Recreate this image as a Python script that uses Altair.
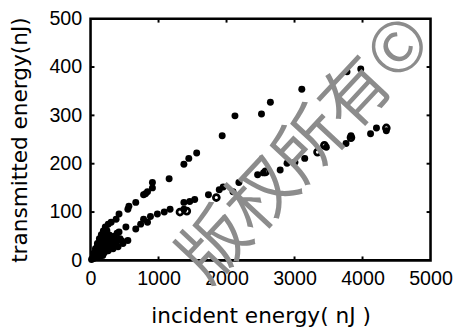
import altair as alt
import pandas as pd

# upper series (filled dots)
up_x = [43, 72, 101, 130, 159, 188, 217, 260, 303, 376, 419, 549, 564, 665, 780, 809, 838,
        910, 910, 1156, 1373, 1445, 1561, 1936, 2124, 2514, 2645, 3107, 3772, 3974]
up_y = [14, 24, 35, 45, 53, 61, 69, 75, 79, 85, 96, 106, 112, 120, 136, 138, 142,
        150, 161, 169, 199, 211, 222, 258, 299, 303, 327, 354, 390, 396]

# lower series (filled dots)
lo_x = [87, 145, 202, 260, 332, 405, 477, 549, 58, 116, 173, 231, 289, 202, 260, 347, 434,
        116, 29, 173, 289, 376, 419, 520, 665, 737, 780, 838, 881, 983, 1084, 1170, 1373,
        1373, 1459, 1532, 1734, 1893, 1951, 2095, 2182, 2457, 2543, 2789, 2890, 3006, 3150,
        3468, 3757, 3830, 4118, 4205, 4350, 15, 60, 100, 150, 230, 320, 45, 130,
        80, 110, 140, 170, 200, 240, 180, 220, 250, 280, 310, 350, 390, 460]
lo_y = [8, 12, 16, 20, 24, 28, 35, 41, 8, 20, 28, 37, 45, 45, 53, 41, 45,
        12, 4, 20, 33, 37, 59, 69, 65, 75, 85, 79, 91, 96, 100, 106, 106,
        120, 122, 126, 136, 146, 152, 142, 161, 177, 181, 187, 201, 203, 211,
        234, 242, 258, 262, 274, 268, 2, 16, 30, 38, 50, 28, 4, 6,
        22, 28, 40, 46, 56, 62, 10, 26, 34, 52, 36, 50, 56, 40]

# lower series (open circles)
op_x = [1315, 1416, 1850, 2572, 3338, 3439, 3830, 4350]
op_y = [100, 102, 130, 183, 224, 238, 254, 274]

x_ticks = [0, 1000, 2000, 3000, 4000, 5000]
y_ticks = [0, 100, 200, 300, 400, 500]
inner_x = [1000, 2000, 3000, 4000]
inner_y = [100, 200, 300, 400]

W, H = 346, 246

up = pd.DataFrame({"x": up_x, "y": up_y})
lo = pd.DataFrame({"x": lo_x, "y": lo_y})
op = pd.DataFrame({"x": op_x, "y": op_y})

xs = alt.Scale(domain=[0, 5000], nice=False)
ys = alt.Scale(domain=[0, 500], nice=False)

xax = alt.Axis(values=x_ticks, ticks=False, domain=False, grid=False, labelPadding=9,
               labelFontSize=20, labelFont="Liberation Sans", labelColor="black",
               format="d",
               title="incident energy( nJ )", titleFontSize=22, titleFont="DejaVu Sans",
               titleFontWeight="normal", titleColor="black", titlePadding=17,
               labelFlush=False)
yax = alt.Axis(values=y_ticks, ticks=False, domain=False, grid=False, labelPadding=9,
               labelFontSize=20, labelFont="Liberation Sans", labelColor="black",
               format="d",
               title="transmitted energy(nJ)", titleFontSize=22, titleFont="DejaVu Sans",
               titleFontWeight="normal", titleColor="black", titlePadding=18,
               labelFlush=False)

base_up = alt.Chart(up).mark_circle(color="black", opacity=1, size=50).encode(
    x=alt.X("x:Q", scale=xs, axis=xax),
    y=alt.Y("y:Q", scale=ys, axis=yax),
)
base_lo = alt.Chart(lo).mark_circle(color="black", opacity=1, size=50).encode(
    x=alt.X("x:Q", scale=xs), y=alt.Y("y:Q", scale=ys))
base_op = alt.Chart(op).mark_point(color="black", filled=False, strokeWidth=2.8, size=36, opacity=1).encode(
    x=alt.X("x:Q", scale=xs), y=alt.Y("y:Q", scale=ys))

tx = pd.DataFrame({"v": inner_x})
ty = pd.DataFrame({"v": inner_y})
tick_b = alt.Chart(tx).mark_rule(color="black", strokeWidth=2).encode(
    x=alt.X("v:Q", scale=xs), y=alt.value(H), y2=alt.value(H - 4))
tick_t = alt.Chart(tx).mark_rule(color="black", strokeWidth=2).encode(
    x=alt.X("v:Q", scale=xs), y=alt.value(0), y2=alt.value(4))
tick_l = alt.Chart(ty).mark_rule(color="black", strokeWidth=2).encode(
    y=alt.Y("v:Q", scale=ys), x=alt.value(0), x2=alt.value(4))
tick_r = alt.Chart(ty).mark_rule(color="black", strokeWidth=2).encode(
    y=alt.Y("v:Q", scale=ys), x=alt.value(W), x2=alt.value(W - 4))

wm = alt.Chart(pd.DataFrame({"t": ["版权所有©"]})).mark_text(
    font="Noto Sans CJK SC", fontSize=70, color="#8c8c8c", angle=313,
    align="center", baseline="middle").encode(
    text="t:N", x=alt.value(220), y=alt.value(134))

chart = alt.layer(base_up, base_lo, base_op, tick_b, tick_t, tick_l, tick_r, wm).properties(
    width=W, height=H,
    autosize=alt.AutoSizeParams(type="none"),
    padding={"left": 84, "top": 8, "right": 30, "bottom": 70},
    background="white",
).configure_view(stroke="black", strokeWidth=2.6)

chart.save("out.html", embed_options={"renderer": "svg", "actions": False})
